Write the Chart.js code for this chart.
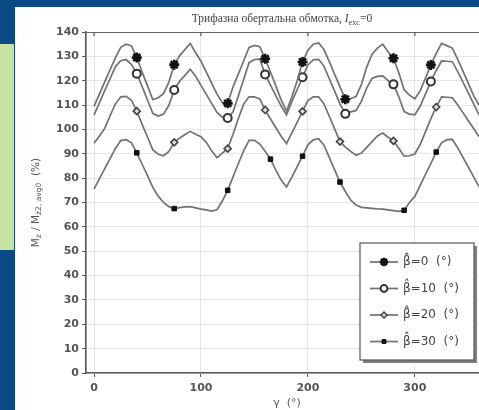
<!DOCTYPE html>
<html>
<head>
<meta charset="utf-8">
<script src="https://cdn.jsdelivr.net/npm/chart.js@4.4.1/dist/chart.umd.min.js"></script>
<style>
  body { margin: 0; background: #0b4a86; width: 479px; height: 410px; overflow: hidden; position: relative; }
  #side { position: absolute; left: 0; top: 44px; width: 14px; height: 206px; background: #c8e3a4; }
  #panel { position: absolute; left: 15px; top: 7px; width: 464px; height: 403px; background: #fff; }
</style>
</head>
<body>
<div id="side"></div>
<div id="panel"><canvas id="chart" width="464" height="403"></canvas></div>
<script>
// rotor angle gamma (deg)
const gamma = [0,5,10,15,20,25,30,35,40,45,50,55,60,65,70,75,80,85,90,95,100,105,110,115,120,
  125,130,135,140,145,150,155,160,165,170,175,180,185,190,195,200,205,210,215,220,225,230,235,240,
  245,250,255,260,265,270,275,280,285,290,295,300,305,310,315,320,325,330,335,340,345,350,355,360];

// torque ratio (%) for each skew angle
const beta0 = [109.5,114.5,119.5,124.5,129.5,133.7,135,134.3,129.5,123.5,118,112.2,113,114.7,119.4,126.6,
  130.2,132.8,135.3,131.5,128,123.5,119,114.5,111,110.7,117.5,122.8,128.2,133.7,134.5,134,129,123.6,
  117.9,112.1,107.5,113.4,120,127.7,132.5,135,135.5,132.8,127.8,122.6,117.5,112.4,112.7,113.5,118.4,
  125.6,130.9,133.4,135,131.9,129.2,123.3,116.3,114.1,112.6,115.8,121.1,126.5,131.2,135.3,134.4,133.4,
  128.9,123.9,118.9,113.9,110];
const beta10 = [105.9,110.9,115.9,120.8,125.8,128.2,128.7,126.6,122.9,117.6,112.1,106.6,105.5,106.3,109.9,
  116.2,119.8,122.2,124.7,121.8,118.1,114.4,110.7,107,105,104.7,107.2,113.8,120.6,127.4,128.7,128.9,
  122.6,118.2,113.9,109.6,106,111.4,116.4,121.4,126.5,128.6,128.8,126,120.8,115.7,110.5,106.4,107.2,
  107.8,111.5,117,121,121.8,122,120,118.5,113.4,107.3,106.3,106,109.5,114.6,119.7,124.2,128.1,128,
  127.8,123.8,119.4,115,110.5,106];
const beta20 = [94.3,97.3,100.4,105.6,110.5,113.4,113.6,112,107.5,102.1,96.9,91.6,89.8,89.2,91,94.7,96.4,
  97.9,99.2,98,97,94.7,91.2,88.4,90.3,92.1,98,104.5,110.5,113.4,113.4,112.5,108,104.3,100.8,97.2,94.2,
  98.6,103,107.4,111.8,113.4,113.4,110.5,105.4,100.2,95,92.7,91,89.4,90.3,92.6,95,97.3,98.5,96.8,95.3,
  92.3,89,89.2,89.9,93.8,99.1,104.4,109.2,113.4,113.2,113,110.1,106.9,103.6,100.4,97];
const beta30 = [75.5,79.7,83.9,88,92.2,95.4,95.8,94.5,90.4,85.7,81,76.2,72.6,70,68.3,67.5,67.9,68.2,68.3,
  67.8,67.3,67,66.5,67,70.6,75,80.5,86,91.3,95.5,95.5,94,91,87.8,83.3,79.2,76.4,80.4,84.7,89,93.7,95.7,
  96.2,93.5,88.5,83.4,78.4,74.5,71,69,68,67.8,67.6,67.4,67.3,67,66.7,66.4,66.8,70,72.5,77,81.6,86.1,
  90.7,94.5,95.8,95.9,92.5,88.5,84.5,80.5,76.5];

// angles where a marker is drawn on each curve
const mark0 = [40,75,125,160,195,235,280,315];
const mark10 = [40,75,125,160,195,235,280,315];
const mark20 = [40,75,125,160,195,230,280,320];
const mark30 = [40,75,125,165,195,230,290,320];

const labels = ['β̂=0  (°)', 'β̂=10  (°)', 'β̂=20  (°)', 'β̂=30  (°)'];
const xTicks = [0, 100, 200, 300];

const lineColor = '#727272';
const styles = [
  { pointStyle: 'star', radius: 5, borderWidth: 2.6, fill: '#111', stroke: '#111' },
  { pointStyle: 'circle', radius: 4, borderWidth: 2, fill: '#fff', stroke: '#333' },
  { pointStyle: 'rectRot', radius: 3.5, borderWidth: 1.6, fill: '#ddd', stroke: '#444' },
  { pointStyle: 'rect', radius: 3.2, borderWidth: 1, fill: '#111', stroke: '#111' }
];

let makeSeries = function(values, marks, st, i) {
  return {
    label: labels[i],
    data: gamma.map((g, k) => ({ x: g, y: values[k] })),
    borderColor: lineColor,
    borderWidth: 1.7,
    tension: 0,
    pointStyle: st.pointStyle,
    pointRadius: c => marks.includes(c.raw.x) ? st.radius : 0,
    pointHoverRadius: 0,
    pointBorderWidth: st.borderWidth,
    pointBackgroundColor: st.fill,
    pointBorderColor: st.stroke
  };
};

let drawParts = function(ctx, parts, x, y, size, family) {
  // parts: [text, isSub, isItalic]
  let widths = parts.map(p => {
    ctx.font = (p[2] ? 'italic ' : '') + (p[1] ? size * 0.72 : size) + 'px ' + family;
    return ctx.measureText(p[0]).width;
  });
  let total = widths.reduce((a, b) => a + b, 0);
  let cx = x - total / 2;
  parts.forEach((p, i) => {
    ctx.font = (p[2] ? 'italic ' : '') + (p[1] ? size * 0.72 : size) + 'px ' + family;
    ctx.fillText(p[0], cx, p[1] ? y + size * 0.3 : y);
    cx += widths[i];
  });
};

const decor = {
  id: 'decor',
  afterDraw(chart) {
    let ctx = chart.ctx;
    let area = chart.chartArea;
    ctx.save();
    ctx.fillStyle = '#444';
    ctx.textBaseline = 'middle';
    ctx.textAlign = 'left';

    // title
    drawParts(ctx, [['Трифазна обертальна обмотка, ', false, false], ['I', false, true],
      ['exc', true, false], ['=0', false, false]], 267, 12, 11.5, '"Liberation Serif", serif');

    // x axis title
    ctx.fillStyle = '#555';
    drawParts(ctx, [['γ  (°)', false, false]], 272, 396, 11, '"DejaVu Sans"');

    // y axis title
    ctx.save();
    ctx.translate(21, (area.top + area.bottom) / 2);
    ctx.rotate(-Math.PI / 2);
    drawParts(ctx, [['M', false, false], ['z', true, false], [' / M', false, false],
      ['z2, avg0', true, false], ['  (%)', false, false]], 0, 0, 10.5, '"DejaVu Sans"');
    ctx.restore();

    // small inward ticks on the top border
    ctx.strokeStyle = '#555';
    ctx.lineWidth = 1.2;
    xTicks.forEach(v => {
      let px = chart.scales.x.getPixelForValue(v);
      ctx.beginPath();
      ctx.moveTo(px, area.top);
      ctx.lineTo(px, area.top + 4);
      ctx.stroke();
    });

    // legend box with shadow
    let bx = 345, by = 236, bw = 114, bh = 117;
    ctx.fillStyle = '#808080';
    ctx.fillRect(bx + 3, by + 3, bw, bh);
    ctx.fillStyle = '#fff';
    ctx.fillRect(bx, by, bw, bh);
    ctx.strokeStyle = '#555';
    ctx.lineWidth = 1.2;
    ctx.strokeRect(bx, by, bw, bh);

    chart.data.datasets.forEach((ds, i) => {
      let st = styles[i];
      let y = 255 + i * 26.5;
      ctx.strokeStyle = lineColor;
      ctx.lineWidth = 1.7;
      ctx.beginPath();
      ctx.moveTo(355, y);
      ctx.lineTo(383, y);
      ctx.stroke();
      ctx.fillStyle = st.fill;
      ctx.strokeStyle = st.stroke;
      ctx.lineWidth = st.borderWidth;
      Chart.helpers.drawPoint(ctx, { pointStyle: st.pointStyle, radius: st.radius * 0.85,
        borderWidth: st.borderWidth, rotation: 0 }, 369, y);
      ctx.fillStyle = '#444';
      ctx.font = '12px "DejaVu Sans"';
      ctx.textAlign = 'left';
      ctx.fillText(ds.label, 388, y);
    });
    ctx.restore();
  }
};

new Chart(document.getElementById('chart'), {
  type: 'line',
  data: {
    datasets: [
      makeSeries(beta0, mark0, styles[0], 0),
      makeSeries(beta10, mark10, styles[1], 1),
      makeSeries(beta20, mark20, styles[2], 2),
      makeSeries(beta30, mark30, styles[3], 3)
    ]
  },
  options: {
    responsive: false,
    animation: false,
    devicePixelRatio: 1,
    layout: { padding: { top: 25, left: 0, right: 0, bottom: 0 } },
    plugins: { legend: { display: false }, title: { display: false }, tooltip: { enabled: false } },
    scales: {
      x: {
        type: 'linear',
        min: -7.5,
        max: 360,
        afterBuildTicks: s => { s.ticks = xTicks.map(v => ({ value: v })); },
        afterFit: s => { s.height = 37; },
        grid: { color: '#e6e6e6', tickColor: '#555', tickLength: 4 },
        border: { color: '#555', width: 1.6 },
        ticks: { color: '#555', padding: 5, font: { family: 'DejaVu Sans', size: 11, weight: 'bold' } }
      },
      y: {
        min: 0,
        max: 140,
        ticks: { stepSize: 10, color: '#555', padding: 3, font: { family: 'DejaVu Sans', size: 11, weight: 'bold' } },
        afterFit: s => { s.width = 71; },
        grid: { color: c => c.tick && c.tick.value === 140 ? '#666' : '#e6e6e6', tickColor: '#555', tickLength: 4 },
        border: { color: '#555', width: 1.6 }
      }
    }
  },
  plugins: [decor]
});
</script>
</body>
</html>
